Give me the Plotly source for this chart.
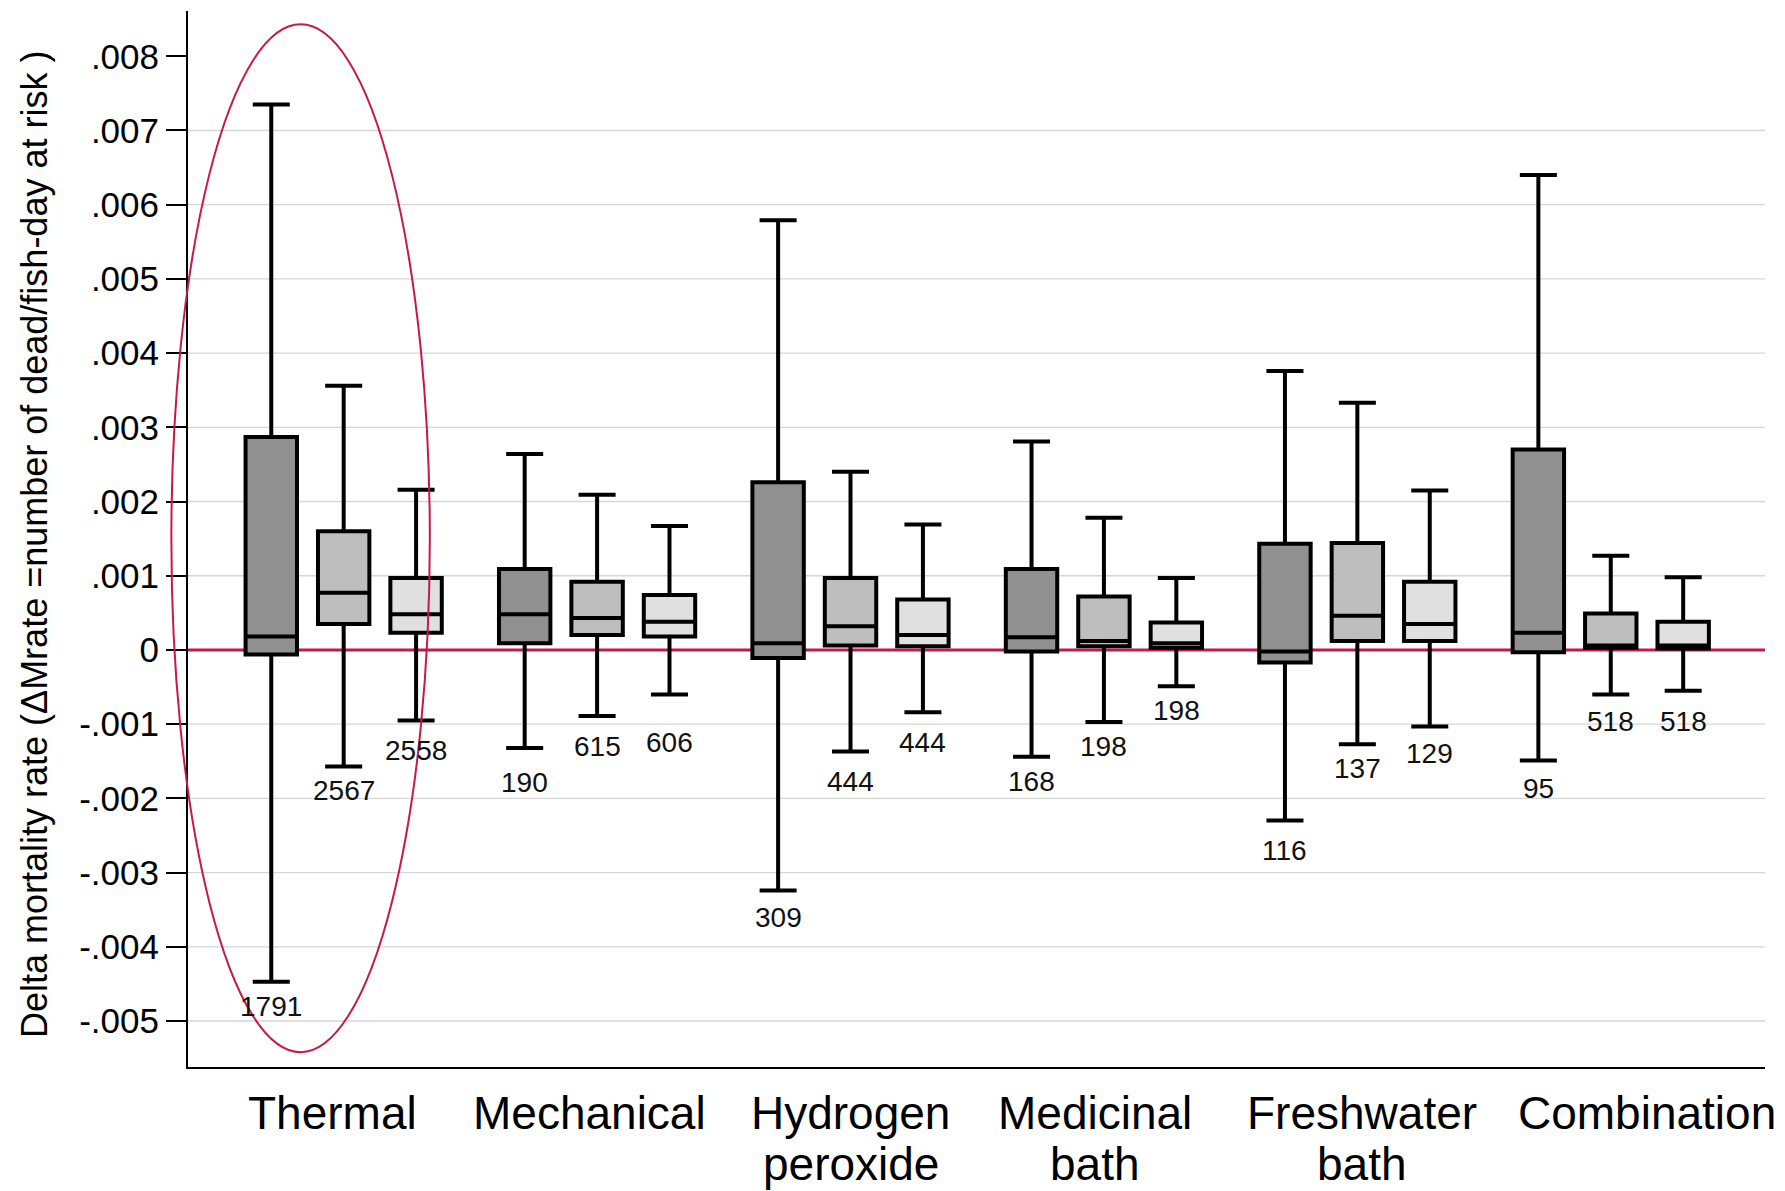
import plotly.graph_objects as go

categories = ["Thermal", "Mechanical", "Hydrogen\nperoxide", "Medicinal\nbath", "Freshwater\nbath", "Combination"]

# Series 1 (dark grey)
s1_upper = [0.00735, 0.00264, 0.00579, 0.00281, 0.00376, 0.00640]
s1_q3 = [0.00287, 0.00109, 0.00226, 0.00109, 0.00143, 0.00270]
s1_med = [0.00018, 0.00048, 0.00009, 0.00017, -0.00002, 0.00023]
s1_q1 = [-0.00006, 0.00009, -0.00011, -0.00002, -0.00017, -0.00003]
s1_lower = [-0.00447, -0.00132, -0.00324, -0.00144, -0.00230, -0.00149]
s1_n = ["1791", "190", "309", "168", "116", "95"]

# Series 2 (mid grey)
s2_upper = [0.00356, 0.00209, 0.00240, 0.00178, 0.00333, 0.00127]
s2_q3 = [0.00160, 0.00092, 0.00097, 0.00072, 0.00144, 0.00049]
s2_med = [0.00077, 0.00043, 0.00032, 0.00012, 0.00046, 0.00006]
s2_q1 = [0.00035, 0.00020, 0.00006, 0.00005, 0.00012, 0.00003]
s2_lower = [-0.00157, -0.00089, -0.00137, -0.00097, -0.00127, -0.00060]
s2_n = ["2567", "615", "444", "198", "137", "518"]

# Series 3 (light grey)
s3_upper = [0.00216, 0.00167, 0.00169, 0.00097, 0.00215, 0.00098]
s3_q3 = [0.00097, 0.00074, 0.00068, 0.00037, 0.00092, 0.00038]
s3_med = [0.00048, 0.00038, 0.00020, 0.00009, 0.00035, 0.00006]
s3_q1 = [0.00023, 0.00018, 0.00005, 0.00003, 0.00012, 0.00002]
s3_lower = [-0.00095, -0.00060, -0.00084, -0.00049, -0.00103, -0.00055]
s3_n = ["2558", "606", "444", "198", "129", "518"]

ytick_vals = [0.008, 0.007, 0.006, 0.005, 0.004, 0.003, 0.002, 0.001, 0,
              -0.001, -0.002, -0.003, -0.004, -0.005]
ytick_text = [".008", ".007", ".006", ".005", ".004", ".003", ".002", ".001", "0",
              "-.001", "-.002", "-.003", "-.004", "-.005"]

FONT = "Liberation Sans, Arial, sans-serif"
GROUP_STEP = 3.5
X_RANGE = [-1.15, 20.63]
Y_RANGE = [-0.00562, 0.00861]
label_dx = [-0.16, -0.1, 0.0, -0.12, 0.06, 0.5]
# extra downward pixel shift of count labels (layout tweak per series/group)
n_extra_shift = [
    [0, 10, 3, 0, 5, 3],
    [0, 6, 5, 0, 0, 3],
    [6, 24, 6, 0, 3, 6],
]

series = [
    (s1_upper, s1_q3, s1_med, s1_q1, s1_lower, s1_n, "#909090"),
    (s2_upper, s2_q3, s2_med, s2_q1, s2_lower, s2_n, "#bebebe"),
    (s3_upper, s3_q3, s3_med, s3_q1, s3_lower, s3_n, "#e0e0e0"),
]

fig = go.Figure()
annotations = []
for j, (up, q3, med, q1, lo, n, col) in enumerate(series):
    xs = [g * GROUP_STEP + j for g in range(len(categories))]
    fig.add_trace(go.Box(
        x=xs, q1=q1, median=med, q3=q3, lowerfence=lo, upperfence=up,
        width=0.71, whiskerwidth=0.72, fillcolor=col,
        line=dict(color="black", width=4), boxpoints=False,
        showlegend=False, hoverinfo="skip",
    ))
    for g, (x, l, t) in enumerate(zip(xs, lo, n)):
        annotations.append(dict(x=x, y=l, text=t, showarrow=False, xref="x", yref="y",
                                yanchor="top", yshift=-7 - n_extra_shift[j][g],
                                font=dict(family=FONT, size=28, color="#111")))

for g, c in enumerate(categories):
    for k, line in enumerate(c.split("\n")):
        annotations.append(dict(x=g * GROUP_STEP + 1 + label_dx[g], y=0, xref="x", yref="paper",
                                text=line, showarrow=False, yanchor="middle",
                                yshift=-46 - 51 * k,
                                font=dict(family=FONT, size=46, color="black")))

# y-axis title as rotated annotation
annotations.append(dict(x=0, y=0.5, xref="paper", yref="paper", xanchor="center", yanchor="middle",
                        xshift=-154, yshift=-6, textangle=-90, showarrow=False,
                        text="Delta mortality rate (\u0394Mrate =number of dead/fish-day at risk )",
                        font=dict(family=FONT, size=36, color="black")))

shapes = []
for v in ytick_vals:
    if v in (0, 0.008):
        continue
    shapes.append(dict(type="line", xref="paper", yref="y", x0=0, x1=1, y0=v, y1=v,
                       line=dict(color="#d6d6d6", width=1.3), layer="below"))
shapes.append(dict(type="line", xref="paper", yref="y", x0=0, x1=1, y0=0, y1=0,
                   line=dict(color="#c8174b", width=3), layer="below"))

# highlight ellipse around Thermal group (data units converted to paper so it is not clipped)
def px(v):
    return (v - X_RANGE[0]) / (X_RANGE[1] - X_RANGE[0])
def py(v):
    return (v - Y_RANGE[0]) / (Y_RANGE[1] - Y_RANGE[0])
shapes.append(dict(type="circle", xref="paper", yref="paper",
                   x0=px(-1.38), x1=px(2.19), y0=py(-0.00542), y1=py(0.00843),
                   line=dict(color="#c8174b", width=2), layer="above"))

fig.update_layout(
    width=1785, height=1191,
    paper_bgcolor="white", plot_bgcolor="white",
    margin=dict(l=180, r=28, t=3, b=132, autoexpand=False),
    font=dict(family=FONT, color="black"),
    annotations=annotations, shapes=shapes,
    xaxis=dict(range=X_RANGE, showticklabels=False, ticks="", showgrid=False,
               zeroline=False, showline=True, linecolor="black", linewidth=2),
    yaxis=dict(range=Y_RANGE, tickvals=ytick_vals, ticktext=ytick_text, automargin=False,
               ticks="outside", ticklen=20, tickwidth=2, tickcolor="black",
               tickfont=dict(family=FONT, size=35, color="black"),
               showgrid=False, zeroline=False, showline=True, linecolor="black", linewidth=2),
)

fig.write_html("out.html")
